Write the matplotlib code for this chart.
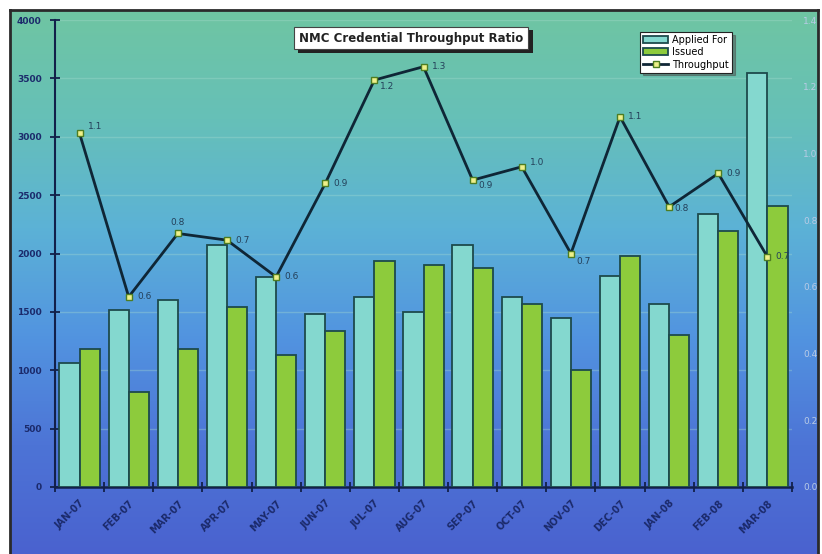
import numpy as np
import matplotlib
matplotlib.use("Agg")
import matplotlib.pyplot as plt
from matplotlib.colors import LinearSegmentedColormap
from matplotlib.patches import Rectangle

# data
months = ["JAN-07", "FEB-07", "MAR-07", "APR-07", "MAY-07", "JUN-07", "JUL-07",
          "AUG-07", "SEP-07", "OCT-07", "NOV-07", "DEC-07", "JAN-08", "FEB-08", "MAR-08"]
applied = [1060, 1520, 1605, 2070, 1795, 1480, 1630, 1495, 2070, 1630, 1450, 1810, 1570, 2340, 3550]
issued = [1180, 810, 1180, 1540, 1130, 1340, 1940, 1900, 1880, 1570, 1000, 1980, 1300, 2195, 2410]
throughput = [1.06, 0.57, 0.76, 0.74, 0.63, 0.91, 1.22, 1.26, 0.92, 0.96, 0.70, 1.11, 0.84, 0.94, 0.69]

# label offsets in points (style only)
lab_off = {0: (6, 5), 2: (0, 8), 6: (4, -5), 8: (4, -4), 9: (6, 3), 10: (4, -6), 12: (4, -1)}

W, H = 822, 554
fig = plt.figure(figsize=(W / 100, H / 100), dpi=100)
fig.patch.set_facecolor("white")

# gradient background inside the frame
bg = fig.add_axes([10 / W, 0, 808 / W, (H - 10) / H])
cmap = LinearSegmentedColormap.from_list(
    "bg", ["#6fc5a2", "#66c0b8", "#5cb2d6", "#5294e0", "#4d74d6", "#4a62cf"])
grad = np.linspace(0, 1, 256).reshape(-1, 1)
bg.imshow(grad, aspect="auto", cmap=cmap, extent=[0, 1, 0, 1])
bg.set_xticks([])
bg.set_yticks([])
for s in bg.spines.values():
    s.set_color("#2a2a2a")
    s.set_linewidth(2)
bg.spines["bottom"].set_visible(False)

ax = fig.add_axes([55 / W, (H - 487) / H, 737 / W, 467 / H])
ax.set_facecolor("none")
x = np.arange(len(months))
bw = 0.41
edge = "#1d4a4c"
ax.bar(x - bw / 2, applied, bw, color="#84d8cf", edgecolor=edge, linewidth=1.3,
       label="Applied For", zorder=3)
ax.bar(x + bw / 2, issued, bw, color="#8dcb3c", edgecolor=edge, linewidth=1.3,
       label="Issued", zorder=3)

ax.set_xlim(-0.5, len(months) - 0.5)
ax.set_ylim(0, 4000)
ax.set_yticks(np.arange(0, 4001, 500))
ax.yaxis.grid(True, color="#a8dcd0", alpha=0.35, linewidth=1)
ax.set_axisbelow(True)
for side in ["top", "right"]:
    ax.spines[side].set_visible(False)
ax.spines["left"].set_color("#12204a")
ax.spines["bottom"].set_color("#12204a")
ax.spines["left"].set_linewidth(1.5)
ax.spines["bottom"].set_linewidth(1.8)

ax.set_xticks(x)
ax.set_xticklabels(months, rotation=45, ha="right", va="top", rotation_mode="anchor",
                   fontsize=7, fontweight="bold", color="#1b2a6b")
ax.tick_params(axis="x", which="major", length=0, pad=8)
ax.set_xticks(np.arange(-0.5, len(months) + 0.5, 1), minor=True)
ax.tick_params(axis="x", which="minor", length=7, direction="inout", color="#12204a", width=1.3)
ax.tick_params(axis="y", length=7, direction="inout", color="#12204a", width=1.3,
               labelsize=6.5, labelcolor="#1b2a6b", pad=6)
for t in ax.get_yticklabels():
    t.set_fontweight("bold")

ax2 = ax.twinx()
ax2.set_ylim(0, 1.4)
ax2.set_yticks(np.arange(0, 1.41, 0.2))
ax2.set_yticklabels([f"{v:.1f}" for v in np.arange(0, 1.41, 0.2)])
ax2.tick_params(axis="y", length=0, labelsize=6.5, labelcolor="#b8cbe6", pad=8)
for s in ax2.spines.values():
    s.set_visible(False)
ln, = ax2.plot(x, throughput, color="#0f2636", linewidth=2, marker="s", markersize=5,
               markerfacecolor="#eef08a", markeredgecolor="#4e7d22", markeredgewidth=1,
               label="Throughput", zorder=5)
for i, v in enumerate(throughput):
    dx, dy = lab_off.get(i, (6, 0))
    ax2.annotate(f"{v:.1f}", (x[i], v), xytext=(dx, dy), textcoords="offset points",
                 fontsize=6.5, color="#24405a", ha="left" if dx > 0 else "center",
                 va="center")

h1, l1 = ax.get_legend_handles_labels()
leg = ax2.legend(h1 + [ln], l1 + ["Throughput"], loc="upper right",
                 bbox_to_anchor=(0.925, 0.985), fontsize=7, frameon=True, fancybox=False,
                 edgecolor="#222222", framealpha=1, shadow=True, handlelength=2.6,
                 borderpad=0.3, labelspacing=0.25, handletextpad=0.4)
leg.get_frame().set_linewidth(0.8)

# title box with a drop shadow
fig.patches.append(Rectangle((298 / W, 1 - 53 / H), 235 / W, 23 / H,
                             transform=fig.transFigure, facecolor="#222222",
                             edgecolor="none", zorder=1))
fig.text(0.5, 0.931, "NMC Credential Throughput Ratio", ha="center", va="center",
         fontsize=8.5, fontweight="bold", color="#222222", zorder=3,
         bbox=dict(boxstyle="square,pad=0.4", facecolor="white", edgecolor="#444444",
                   linewidth=0.8))

fig.savefig("out.png", dpi=100)
